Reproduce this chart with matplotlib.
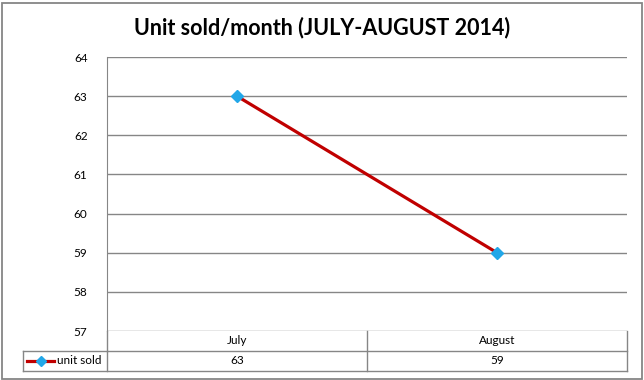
import matplotlib.pyplot as plt
from matplotlib.patches import Rectangle

months = ['July', 'August']
units = [63, 59]
series_name = 'unit sold'
yticks = [57, 58, 59, 60, 61, 62, 63, 64]

plt.rcParams['font.family'] = ['Lato', 'DejaVu Sans']
W, H = 644, 380
fig = plt.figure(figsize=(W / 100, H / 100), dpi=100)

# outer chart border
fig.patches.append(Rectangle((1.5 / W, 1.5 / H), 640 / W, 376 / H, transform=fig.transFigure,
                             fill=False, edgecolor='#868686', linewidth=1.3))

# plot area in pixels: x 107..627, y 57..331 (from top)
ax = fig.add_axes([107 / W, 1 - 331 / H, 520 / W, 274 / H])
x = list(range(len(months)))
ax.plot(x, units, color='#C00000', linewidth=2.3, marker='D', markersize=6,
        markerfacecolor='#22A7E8', markeredgecolor='#22A7E8', zorder=3, clip_on=False)
ax.set_xlim(-0.5, len(months) - 0.5)
ax.set_ylim(57, 64)
ax.set_yticks(yticks)
ax.set_yticklabels([str(t) for t in yticks], fontsize=8.5)
ax.tick_params(axis='y', length=0, pad=14)
ax.set_xticks([])
ax.grid(axis='y', color='#868686', linewidth=1)
for s in ['top', 'right', 'bottom']:
    ax.spines[s].set_visible(False)
ax.spines['left'].set_color('#868686')

fig.text(0.5, 1 - 28 / H, 'Unit sold/month (JULY-AUGUST 2014)', ha='center', va='center',
         fontsize=15.5, fontweight='bold')

# data table below the plot
row_h = 20 / 274
leg_w = 84 / 520 * len(months)  # in data units
gc = '#868686'
trans = ax.get_xaxis_transform()
x0, x1 = -0.5, len(months) - 0.5
ax.plot([x0, x1], [-row_h, -row_h], color=gc, linewidth=1, clip_on=False, transform=trans)
ax.plot([x0 - leg_w, x1], [-2 * row_h, -2 * row_h], color=gc, linewidth=1, clip_on=False, transform=trans)
for xv in [x0 + i for i in range(len(months) + 1)]:
    ax.plot([xv, xv], [0, -2 * row_h], color=gc, linewidth=1, clip_on=False, transform=trans)
ax.plot([x0 - leg_w, x0 - leg_w], [-row_h, -2 * row_h], color=gc, linewidth=1, clip_on=False, transform=trans)
ax.plot([x0 - leg_w, x0], [-row_h, -row_h], color=gc, linewidth=1, clip_on=False, transform=trans)

for i, (m, u) in enumerate(zip(months, units)):
    ax.text(i, -row_h * 0.5, m, ha='center', va='center', fontsize=8.5, transform=trans)
    ax.text(i, -row_h * 1.5, str(u), ha='center', va='center', fontsize=8.5, transform=trans)

# legend key in table
kx = x0 - leg_w + 0.016
ax.plot([kx, kx + 0.105], [-row_h * 1.5] * 2, color='#C00000', linewidth=2.3, clip_on=False, transform=trans)
ax.plot([kx + 0.0525], [-row_h * 1.5], marker='D', markersize=5, color='#22A7E8', clip_on=False, transform=trans)
ax.text(kx + 0.115, -row_h * 1.5, series_name, ha='left', va='center', fontsize=8.5, transform=trans)

fig.savefig('out.png', dpi=100)
